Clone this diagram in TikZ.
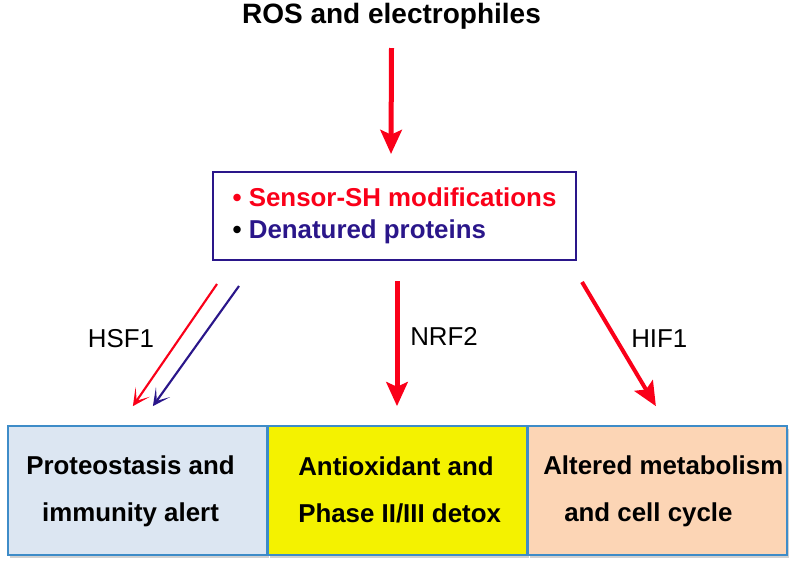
\documentclass[tikz,border=0pt]{standalone}
\usepackage{fontspec}
\setmainfont{Liberation Sans}
\usepackage{xcolor}
\usepackage{tikz}
\usetikzlibrary{arrows.meta, positioning, shadows}

\definecolor{rosred}{RGB}{250,0,25}
\definecolor{sensornavy}{RGB}{42,22,138}
\definecolor{edgeblue}{RGB}{62,140,200}
\definecolor{protblue}{RGB}{220,230,242}
\definecolor{detoxyellow}{RGB}{244,242,0}
\definecolor{metabpeach}{RGB}{252,213,181}

\begin{document}
\begin{tikzpicture}[
    x=0.75pt, y=-0.75pt,
    title-text/.style={font=\bfseries\fontsize{21}{25}\selectfont, inner sep=0pt},
    sensor-box/.style={draw=sensornavy, line width=1.5pt, minimum width=272.25pt, minimum height=66pt, inner sep=0pt, align=left, font=\bfseries\fontsize{19.4}{24}\selectfont},
    out-box/.style={draw=edgeblue, line width=1.3pt, minimum width=194.6pt, minimum height=96.75pt, inner sep=0pt,
        drop shadow={shadow xshift=1.5pt, shadow yshift=-2.2pt, opacity=0.3, fill=black!60}},
    out-text/.style={font=\bfseries\fontsize{19.4}{35.25}\selectfont, inner sep=0pt},
    tf-label/.style={font=\fontsize{19.4}{23}\selectfont, inner sep=0pt},
    big-arrow/.style={draw=rosred, line width=3.75pt, -{Stealth[length=18pt, width=16pt, inset=3.5pt]}},
    thin-arrow/.style={line width=1.6pt, -{Stealth[length=13pt, width=13pt, inset=8pt]}}
]
    \useasboundingbox (0,0) rectangle (796,562);

    \node[title-text, anchor=base] (ros) at (391.5,23) {ROS and electrophiles};

    \node[sensor-box] (sensor) at (394.5,216)
        {{\color{rosred}\textbullet\ Sensor-SH modifications}\\
         \textbullet\ {\color{sensornavy}Denatured proteins}};

    % bottom row of outcomes
    \node[out-box, fill=protblue] (prot) at (137.5,490.5) {};
    \node[out-box, fill=detoxyellow] (detox) at (397.5,490.5) {};
    \node[out-box, fill=metabpeach] (metab) at (657.5,490.5) {};

    \node[out-text, align=center] (prot-txt) at (130.5,491.5) {Proteostasis and\\immunity alert};
    \node[out-text, align=left, anchor=west] (detox-txt) at (298,490) {Antioxidant and\\Phase II/III detox};
    \node[out-text, align=left, anchor=west] (metab-txt) at (543,491.5) {Altered metabolism\\\hspace{15.75pt}and cell cycle};

    \draw[big-arrow] ([shift={(0,25)}]ros.base) -- ([shift={(-3.5,-17)}]sensor.north);

    \draw[thin-arrow, draw=rosred] ([shift={(5,23)}]sensor.south west) -- ([shift={(126,-19)}]prot.north west);
    \draw[thin-arrow, draw=sensornavy] ([shift={(27,25)}]sensor.south west) -- ([shift={(146,-19)}]prot.north west);
    \draw[big-arrow] ([shift={(2.5,20)}]sensor.south) -- ([shift={(-0.5,-19)}]detox.north);
    \draw[big-arrow, line width=3pt] ([shift={(5,21)}]sensor.south east) -- ([shift={(129,-19)}]metab.north west);

    \node[tf-label, anchor=base] (hsf) at (121,347) {HSF1};
    \node[tf-label, anchor=base west] (nrf) at (410,345) {NRF2};
    \node[tf-label, anchor=base west] (hif) at (631,347) {HIF1};

\end{tikzpicture}
\end{document}
